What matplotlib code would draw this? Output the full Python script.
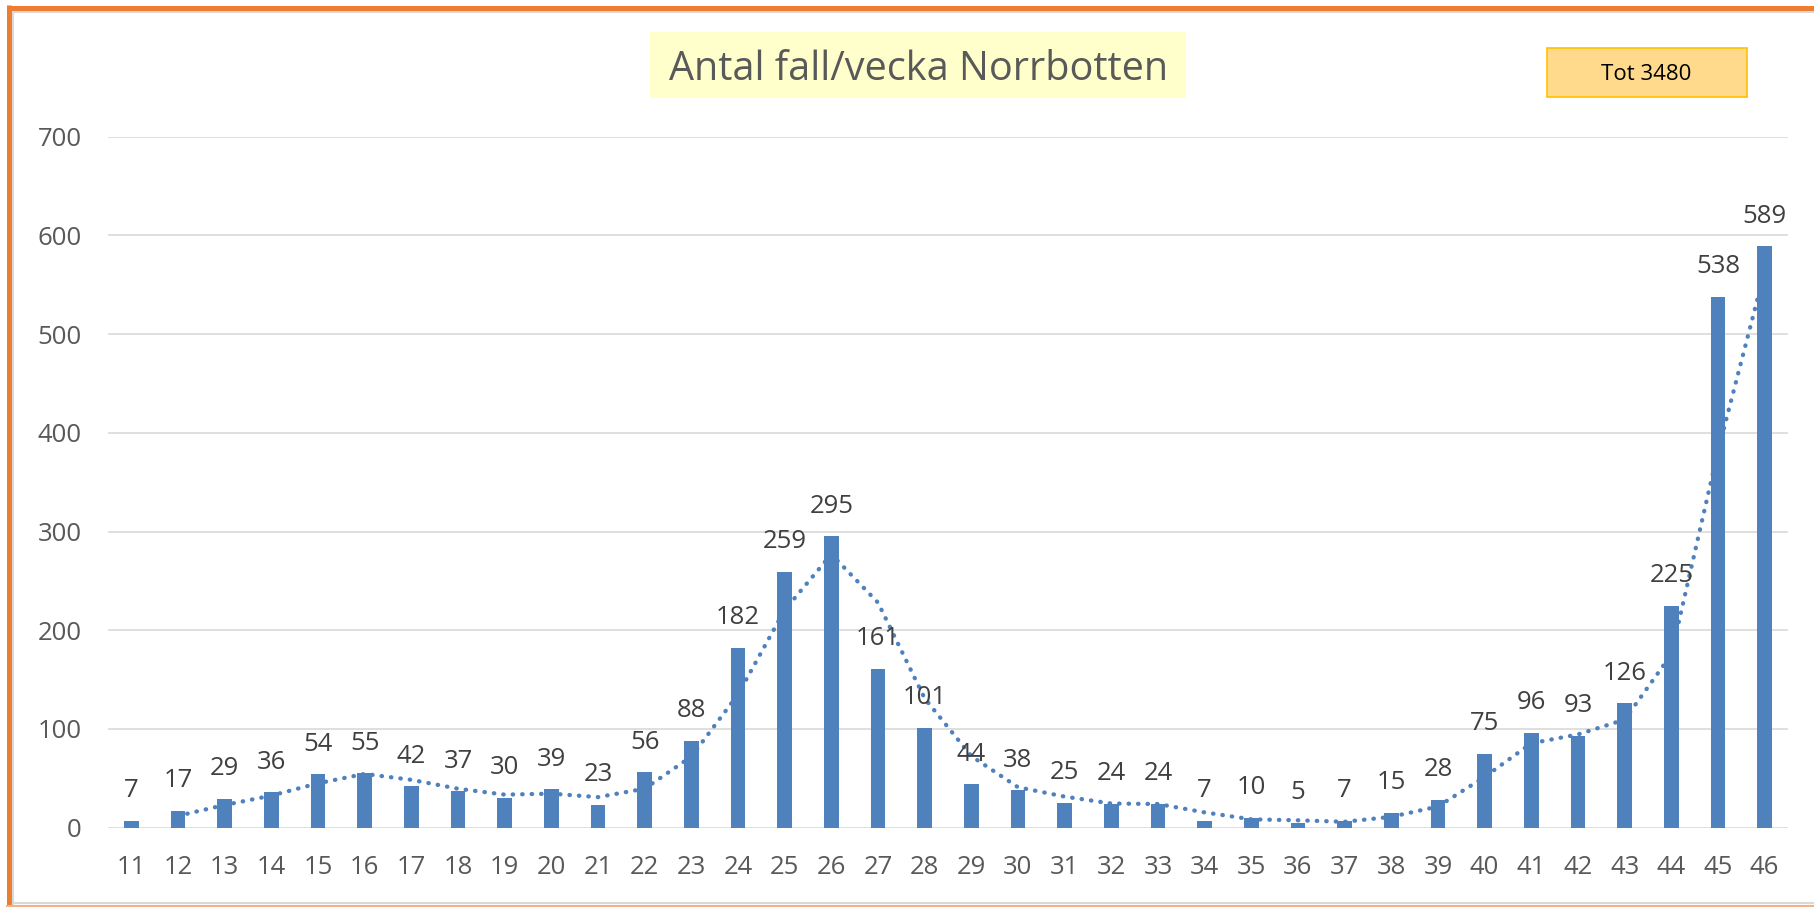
import numpy as np
import matplotlib.pyplot as plt
from matplotlib.patches import Rectangle
from matplotlib.lines import Line2D

plt.rcParams['font.family'] = ['Open Sans', 'DejaVu Sans']

weeks = [str(w) for w in range(11, 47)]
cases = [7, 17, 29, 36, 54, 55, 42, 37, 30, 39, 23, 56, 88, 182, 259, 295, 161, 101,
         44, 38, 25, 24, 24, 7, 10, 5, 7, 15, 28, 75, 96, 93, 126, 225, 538, 589]
title = 'Antal fall/vecka Norrbotten'
total_label = 'Tot 3480'

BLUE = '#4F81BD'
W, H = 1814, 907

fig = plt.figure(figsize=(W / 100, H / 100), dpi=100)
fig.patch.set_facecolor('white')

ax = fig.add_axes([108 / W, 1 - 827.7 / H, (1788 - 108) / W, (827.7 - 136.7) / H])
x = np.arange(len(cases))
ax.bar(x, cases, width=0.31, color=BLUE, zorder=3)

# 2-period moving average trendline (Excel style)
vals = np.array(cases, dtype=float)
mov_avg = (vals[1:] + vals[:-1]) / 2
ax.plot(x[1:], mov_avg, color=BLUE, linewidth=3.1, linestyle=(0, (0.1, 2.1)),
        dash_capstyle='round', zorder=4)

for xi, v in zip(x, cases):
    ax.annotate(str(v), (xi, v), xytext=(0, 17), textcoords='offset points',
                ha='center', va='baseline', fontsize=18.5, color='#404040', zorder=5)

ax.set_xlim(-0.5, len(cases) - 0.5)
ax.set_ylim(0, 700)
ax.set_yticks(range(0, 701, 100))
ax.set_xticks(x)
ax.set_xticklabels(weeks)
ax.tick_params(axis='both', length=0, labelsize=18.5, labelcolor='#595959')
ax.tick_params(axis='x', pad=20)
ax.tick_params(axis='y', pad=19)
ax.grid(axis='y', color='#D9D9D9', linewidth=1.2, zorder=0)
for s in ax.spines.values():
    s.set_visible(False)

# title with pale yellow background
fig.add_artist(Rectangle((650 / W, 1 - 98 / H), 536 / W, 66 / H, transform=fig.transFigure,
                         facecolor='#FFFFCC', edgecolor='none', zorder=1))
fig.text(919 / W, 1 - 80 / H, title, ha='center', va='baseline', fontsize=28.5,
         color='#595959', zorder=2)

# total box
fig.add_artist(Rectangle((1547 / W, 1 - 97 / H), 200 / W, 49 / H, transform=fig.transFigure,
                         facecolor='#FFD98C', edgecolor='#FFC000', linewidth=1.2, zorder=1))
fig.text(1646 / W, 1 - 80 / H, total_label, ha='center', va='baseline', fontsize=16,
         color='black', zorder=2)

# outer frame: grey inner line and orange border
gray = dict(color='#D9D9D9', linewidth=1.5, transform=fig.transFigure)
fig.add_artist(Line2D([13 / W, 13 / W], [0, 1 - 12 / H], **gray))
fig.add_artist(Line2D([13 / W, 1], [1 - 12 / H, 1 - 12 / H], **gray))
fig.add_artist(Line2D([13 / W, 1], [1 - 903 / H, 1 - 903 / H], **gray))
orange = dict(color='#ED7D31', linewidth=3.6, transform=fig.transFigure, solid_capstyle='butt')
fig.add_artist(Line2D([9 / W, 9 / W], [0, 1 - 5 / H], **orange))
fig.add_artist(Line2D([6.5 / W, 1], [1 - 7.5 / H, 1 - 7.5 / H], **orange))
fig.add_artist(Line2D([6.5 / W, 1], [1 - 906 / H, 1 - 906 / H], color='#F4B183',
                      linewidth=1.5, transform=fig.transFigure))

fig.savefig('out.png', dpi=100)
